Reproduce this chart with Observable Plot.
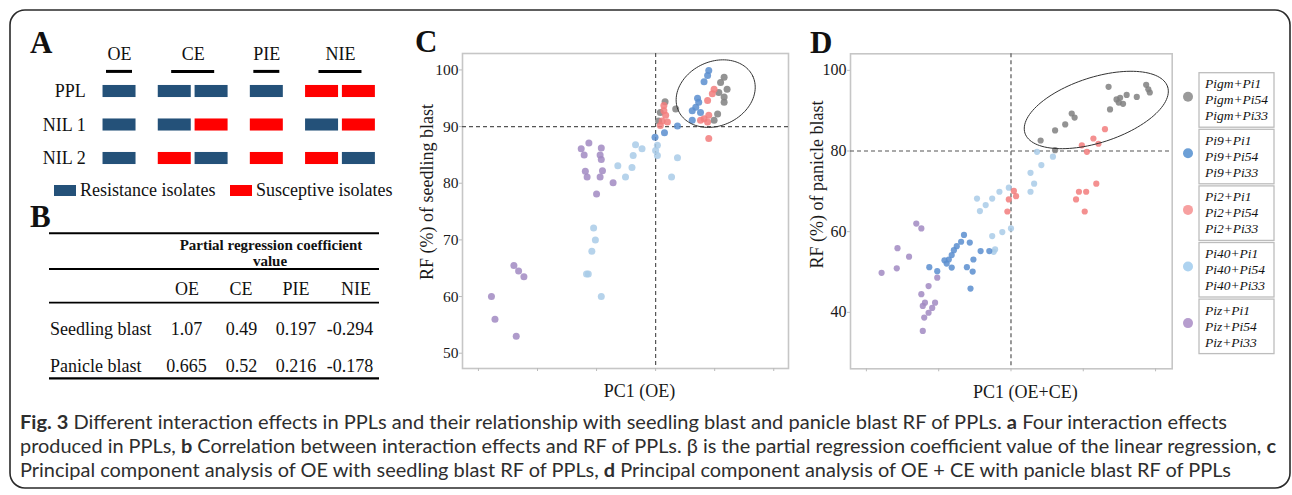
<!DOCTYPE html>
<html><head><meta charset="utf-8">
<script src="https://cdn.jsdelivr.net/npm/d3@7"></script>
<script src="https://cdn.jsdelivr.net/npm/@observablehq/plot@0.6"></script>
<style>
html,body{margin:0;padding:0;background:#fff;}
#root{position:relative;width:1292px;height:495px;overflow:hidden;}
#root > svg, #root > figure, #root > div.p{position:absolute;margin:0;}
</style></head>
<body><div id="root"></div>
<script>
// ---------- Panel A data ----------
const effects = ["OE","CE","PIE","NIE"];
const lines = ["PPL","NIL 1","NIL 2"];
const oeBars  = [["R"],["R"],["R"]];
const ceBars  = [["R","R"],["R","S"],["S","R"]];
const pieBars = [["R"],["S"],["S"]];
const nieBars = [["S","S"],["R","S"],["S","R"]];
const isolateTypes = ["Resistance isolates","Susceptive isolates"];

// ---------- Panel B data ----------
const bCols = ["OE","CE","PIE","NIE"];
const bRows = ["Seedling blast","Panicle blast"];
const seedlingCoef = ["1.07","0.49","0.197","-0.294"];
const panicleCoef = ["0.665","0.52","0.216","-0.178"];

// ---------- Panel C data (PC1, RF%) ----------
const pigmC = [[0.16,94.4],[0.34,93.1],[0.08,92.5],[0.05,91.0],[1.16,98.7],[1.10,97.8],[1.21,96.6],[1.16,95.2],[1.16,94.3],[1.05,92.2],[0.99,91.1],[1.07,96.0]];
const pi9C  = [[0.90,99.9],[0.88,99.0],[0.82,97.9],[0.71,95.0],[0.73,94.3],[0.68,93.4],[0.62,92.8],[0.76,92.5],[0.62,91.1],[0.37,90.1],[0.15,88.9],[-0.01,88.1]];
const pi2C  = [[0.99,96.6],[0.96,95.8],[0.88,94.6],[0.90,92.0],[0.82,91.4],[0.88,90.8],[0.76,91.1],[0.90,87.9],[0.14,92.8],[0.17,92.0],[0.11,91.0],[0.20,90.8],[0.08,90.2],[0.14,93.7]];
const pi40C = [[0.03,86.7],[0.0,85.8],[0.03,84.9],[-0.34,86.8],[-0.23,86.1],[-0.38,84.9],[-0.40,82.8],[-0.64,83.1],[-0.51,81.1],[0.37,84.5],[0.27,81.1],[-1.05,72.1],[-1.02,70.0],[-1.08,68.0],[-1.14,64.0],[-1.17,64.0],[-0.92,60.0]];
const pizC  = [[-1.13,87.1],[-1.26,86.1],[-1.21,85.0],[-0.92,86.2],[-0.94,85.0],[-0.92,84.2],[-1.19,82.1],[-1.16,81.1],[-0.90,82.2],[-0.94,81.1],[-0.72,80.1],[-1.0,78.1],[-2.40,65.5],[-2.32,64.5],[-2.23,63.5],[-2.78,60.0],[-2.72,56.0],[-2.36,53.0]];

// ---------- Panel D data (PC1, RF%) ----------
const pigmD = [[0.41,82.6],[0.61,85.1],[0.75,86.6],[0.84,89.3],[0.88,88.3],[1.35,95.9],[1.37,90.3],[1.46,92.8],[1.51,93.2],[1.60,93.9],[1.55,91.7],[1.49,92.0],[1.74,93.4],[1.87,96.4],[1.90,95.3],[1.92,94.5],[0.61,80.2]];
const pi9D  = [[-1.13,51.2],[-1.02,50.2],[-0.89,52.1],[-0.86,53.1],[-0.82,54.2],[-0.79,55.4],[-0.75,56.4],[-0.69,57.5],[-0.65,59.2],[-0.82,51.1],[-0.57,57.3],[-0.52,53.1],[-0.61,51.2],[-0.53,50.1],[-0.42,55.2],[-0.30,55.2],[-0.56,45.9],[-0.92,52.9]];
const pi2D  = [[-0.03,68.0],[-0.05,65.0],[0.04,70.1],[0.07,68.8],[0.90,68.0],[0.94,69.9],[1.04,69.9],[1.02,65.0],[1.18,71.9],[1.30,85.4],[1.14,83.1],[1.21,81.8],[0.98,81.4],[1.05,79.8]];
const pi40D = [[-0.26,58.9],[-0.22,55.6],[-0.12,59.9],[0.0,60.8],[-0.47,68.2],[-0.43,65.1],[-0.35,66.6],[-0.26,68.2],[-0.16,69.9],[-0.03,70.9],[0.27,74.6],[0.32,71.9],[0.27,69.9],[0.42,76.5],[0.58,78.6],[0.36,79.8],[-0.24,55.0]];
const pizD  = [[-1.31,62.0],[-1.24,60.8],[-1.57,55.9],[-1.41,53.8],[-1.79,49.8],[-1.58,50.9],[-1.02,48.6],[-1.14,46.5],[-1.24,44.5],[-1.19,42.4],[-1.05,42.4],[-1.09,41.1],[-1.22,41.6],[-1.14,39.9],[-1.20,38.7],[-1.22,35.4]];

const groups = ["Pigm","Pi9","Pi2","Pi40","Piz"];
const partners = ["Pi1","Pi54","Pi33"];
const cTicksY = [50,60,70,80,90,100];
const cTicksX = [-3,-2,-1,0,1,2];
const dTicksY = [40,60,80,100];
const dTicksX = [-2,-1,0,1,2];

const dotColors = ["#808080","#5a8ecf","#f27c7c","#a9cbe8","#a189c2"];
const legendColors = ["#9a9a9a","#6c9fd6","#f7a0a0","#aed3f0","#b69dce"];
const serif = '"Liberation Serif","Times New Roman",serif';

const root = document.getElementById("root");
function place(el, left, top){ el.style.left = left+"px"; el.style.top = top+"px"; root.appendChild(el); return el; }

// ---------- overlay (border, letters, table, legends, caption) ----------
const ov = d3.create("svg").attr("width",1292).attr("height",495)
  .style("position","absolute").style("left","0px").style("top","0px")
  .attr("font-family", serif).attr("fill","#111");
ov.append("rect").attr("x",10).attr("y",10).attr("width",1280).attr("height",478)
  .attr("rx",15).attr("fill","none").attr("stroke","#2a2a2a").attr("stroke-width",1.6);
[["A",30,53],["B",30,227],["C",415,52],["D",810,53]].forEach(([t,x,y]) =>
  ov.append("text").attr("x",x).attr("y",y).attr("font-size",31).attr("font-weight","bold").text(t));

// Panel A legend
isolateTypes.forEach((t,i) => {
  const x0 = [54,230][i];
  ov.append("rect").attr("x",x0).attr("y",185).attr("width",22).attr("height",11)
    .attr("fill", ["#245179","#ff0000"][i]);
  ov.append("text").attr("x",x0+26).attr("y",196).attr("font-size",18).text(t);
});

// Panel B table
[[233.3,2],[269,1.8],[302.7,1.8],[378.3,2.2]].forEach(([y,w]) =>
  ov.append("line").attr("x1",49).attr("x2",379).attr("y1",y).attr("y2",y).attr("stroke","#000").attr("stroke-width",w));
ov.append("text").attr("x",271).attr("y",249.5).attr("text-anchor","middle").attr("font-size",15).attr("font-weight","bold").text("Partial regression coefficient");
ov.append("text").attr("x",270).attr("y",266).attr("text-anchor","middle").attr("font-size",15).attr("font-weight","bold").text("value");
const hdrX = [187,241,296,356], valX = [186.5,241.5,296,350];
bCols.forEach((c,i) => ov.append("text").attr("x",hdrX[i]).attr("y",294.5).attr("text-anchor","middle").attr("font-size",18).text(c));
[seedlingCoef, panicleCoef].forEach((vals, r) => {
  const y = [334.5,371.8][r];
  ov.append("text").attr("x",50).attr("y",y).attr("font-size",18).text(bRows[r]);
  vals.forEach((v,i) => ov.append("text").attr("x",valX[i]).attr("y",y).attr("text-anchor","middle").attr("font-size",18).text(v));
});

// Panel D legend
groups.forEach((g,i) => {
  const top = 72.7 + i*56.6;
  ov.append("circle").attr("cx",1188).attr("cy",top+24).attr("r",5).attr("fill",legendColors[i]);
  ov.append("rect").attr("x",1199).attr("y",top).attr("width",75).attr("height",54.5)
    .attr("fill","none").attr("stroke","#bdbdbd").attr("stroke-width",1.3);
  partners.forEach((p,j) => ov.append("text").attr("x",1205).attr("y",top+15.5+j*16)
    .attr("font-size",13.5).attr("font-style","italic").text(g+"+"+p));
});

// Caption
const capLines = [
  {len:1207, parts:[["Fig. 3",1],[" Different interaction effects in PPLs and their relationship with seedling blast and panicle blast RF of PPLs. ",0],["a",1],[" Four interaction effects",0]]},
  {len:1256, parts:[["produced in PPLs, ",0],["b",1],[" Correlation between interaction effects and RF of PPLs. β is the partial regression coefficient value of the linear regression, ",0],["c",1]]},
  {len:1211, parts:[["Principal component analysis of OE with seedling blast RF of PPLs, ",0],["d",1],[" Principal component analysis of OE + CE with panicle blast RF of PPLs",0]]}
];
capLines.forEach((ln,i) => {
  const t = ov.append("text").attr("x",20).attr("y",429+i*24)
    .attr("font-family",'Lato,"Liberation Sans",sans-serif')
    .attr("font-size",18.5).attr("fill","#2e2e2e")
    .attr("textLength",ln.len).attr("lengthAdjust","spacingAndGlyphs");
  ln.parts.forEach(([s,b]) => t.append("tspan").attr("font-weight", b ? "bold" : "normal").text(s));
});
place(ov.node(),0,0);

// ---------- Panel A schematic (Plot) ----------
const barSets = [oeBars, ceBars, pieBars, nieBars];
const aRects = [];
barSets.forEach((bars, gi) => bars.forEach((states, li) => {
  const n = states.length;
  states.forEach((s, bi) => {
    const c = gi*2 + bi - (n-1)/2;
    aRects.push({x1:c-0.448, x2:c+0.448, y1:li-0.18, y2:li+0.18, state:s});
  });
}));
const aHeads = effects.map((e,gi) => ({e, x: gi*2, hw: barSets[gi][0].length === 1 ? 0.353 : 0.584}));
const plotA = Plot.plot({
  width: 410, height: 210, marginLeft: 82.2, marginRight: 33.2, marginTop: 40.75, marginBottom: 35.25,
  x: {domain:[-1,7], axis:null}, y: {domain:[-1.5,2.5], reverse:true, axis:null},
  color: {domain:["R","S"], range:["#245179","#ff0000"]},
  style: {fontFamily: serif, background:"transparent", color:"#111", overflow:"visible"},
  marks: [
    Plot.rect(aRects, {x1:"x1", x2:"x2", y1:"y1", y2:"y2", fill:"state"}),
    Plot.text(aHeads, {x:"x", y:() => -1.12, text:"e", fontSize:18}),
    Plot.ruleY(aHeads, {x1:d => d.x - d.hw, x2:d => d.x + d.hw, y:() => -0.6, stroke:"#000", strokeWidth:3}),
    Plot.text(lines, {x:() => -1, y:(d,i) => i, text:d => d, textAnchor:"end", dx:3, fontSize:18})
  ]
});
place(plotA, 0, 0);

// ---------- helpers ----------
function rowsOf(list){ return list.flatMap(([g, arr]) => arr.map(([x,y]) => ({g, x, y}))); }
function ellipse(cx, cy, a, b, deg, kx, ky){
  const th = deg*Math.PI/180;
  return d3.range(0, 361, 3).map(d => {
    const t = d*Math.PI/180;
    const sx = a*Math.cos(t)*Math.cos(th) - b*Math.sin(t)*Math.sin(th);
    const sy = a*Math.cos(t)*Math.sin(th) + b*Math.sin(t)*Math.cos(th);
    return {x: cx + sx/kx, y: cy - sy/ky};
  });
}
function scatter(cfg){
  const fw = cfg.width - cfg.ml - cfg.mr, fh = cfg.height - cfg.mt - cfg.mb;
  const kx = fw/(cfg.xd[1]-cfg.xd[0]), ky = fh/(cfg.yd[1]-cfg.yd[0]);
  const ell = ellipse(...cfg.ell, kx, ky);
  const dash = {stroke:"#555", strokeWidth:1.2, strokeDasharray:"4,3"};
  return Plot.plot({
    width: cfg.width, height: cfg.height,
    marginLeft: cfg.ml, marginRight: cfg.mr, marginTop: cfg.mt, marginBottom: cfg.mb,
    x: {domain: cfg.xd}, y: {domain: cfg.yd},
    color: {domain: groups, range: dotColors},
    style: {fontFamily: serif, background:"transparent", color:"#1a1a1a", overflow:"visible"},
    marks: [
      Plot.frame({stroke:"#c6c6c6", strokeWidth:1.6}),
      Plot.axisY({ticks: cfg.ty, tickSize: 3, tickPadding: 1, stroke:"#bbb", fontSize: cfg.tfs, label: null}),
      Plot.axisX({ticks: cfg.tx, tickSize: 3, tickFormat: () => "", stroke:"#bbb", label: null}),
      Plot.ruleY([cfg.hline], dash),
      Plot.ruleX([0], dash),
      Plot.dot(cfg.data, {x:"x", y:"y", fill:"g", r: cfg.r, fillOpacity: 0.85}),
      Plot.line(ell, {x:"x", y:"y", stroke:"#333", strokeWidth:1}),
      Plot.text([cfg.xlabel], {frameAnchor:"bottom", textAnchor:"middle", lineAnchor:"middle", dx: 14, dy: 23, fontSize: 18}),
      Plot.text([cfg.ylabel], {frameAnchor:"left", textAnchor:"middle", lineAnchor:"middle", rotate: -90, dx: cfg.ydx, dy: cfg.ydy, fontSize: 18})
    ]
  });
}

// ---------- Panel C ----------
const plotC = scatter({
  width: 400, height: 390, ml: 62, mr: 12, mt: 33, mb: 42,
  xd: [-3.27, 2.25], yd: [47.3, 102.9], tx: cTicksX, ty: cTicksY, tfs: 15.5, hline: 90, r: 3.5,
  data: rowsOf([["Piz",pizC],["Pi40",pi40C],["Pigm",pigmC],["Pi2",pi2C],["Pi9",pi9C]]),
  ell: [1.017, 95.82, 41, 32, -25],
  xlabel: "PC1 (OE)", ylabel: "RF (%) of seedling blast", ydx: -35.3, ydy: -19
});
place(plotC, 400, 20);

// ---------- Panel D ----------
const plotD = scatter({
  width: 390, height: 390, ml: 50, mr: 18.3, mt: 33.3, mb: 41.7,
  xd: [-2.22, 2.23], yd: [26.0, 104.1], tx: dTicksX, ty: dTicksY, tfs: 16, hline: 80, r: 3.1,
  data: rowsOf([["Piz",pizD],["Pi40",pi40D],["Pi9",pi9D],["Pi2",pi2D],["Pigm",pigmD]]),
  ell: [1.18, 90.17, 75, 32.6, -18],
  xlabel: "PC1 (OE+CE)", ylabel: "RF (%) of panicle blast", ydx: -33.5, ydy: -26.8
});
place(plotD, 800, 20);
</script></body></html>
